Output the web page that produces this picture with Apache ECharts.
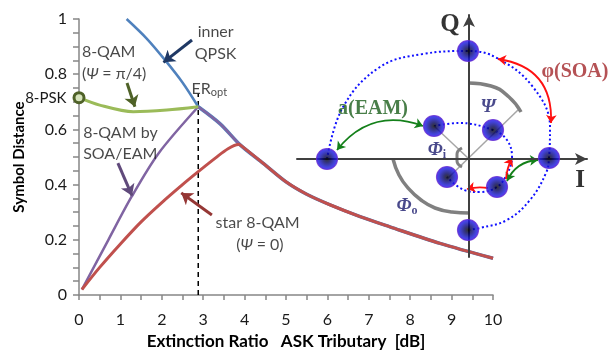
<!DOCTYPE html>
<html>
<head>
<meta charset="utf-8">
<script src="https://cdn.jsdelivr.net/npm/echarts@6/dist/echarts.min.js"></script>
<style>
  html, body { margin: 0; padding: 0; background: #fff; }
  #chart { width: 609px; height: 356px; }
</style>
</head>
<body>
<div id="chart"></div>
<script>
// ---- main curves: x = extinction ratio [dB], y = symbol distance ----
const innerQpsk = [[1.15, 1.0], [1.63, 0.93], [2.08, 0.851], [2.5, 0.77], [2.88, 0.682]];
const qam8Psi = [[0, 0.715], [0.5, 0.688], [1.31, 0.664], [2.12, 0.67], [2.88, 0.682]];
const qam8SoaEam = [[0.07, 0.02], [0.71, 0.2], [1.27, 0.356], [1.92, 0.513], [2.88, 0.682]];
const star8Qam = [[0.07, 0.02], [0.5, 0.1], [1.0, 0.185], [1.5, 0.265], [2.0, 0.335], [2.5, 0.4], [2.88, 0.447], [3.3, 0.497], [3.6, 0.53], [3.85, 0.545]];
const commonTail = [[2.88, 0.682], [3.41, 0.62], [3.9, 0.543], [4.45, 0.477], [5.0, 0.41], [5.5, 0.365], [6.06, 0.327], [6.79, 0.284], [7.51, 0.247], [8.72, 0.187], [10, 0.133]];
const erOpt = 2.88;
const erOptTop = 0.73;

// annotation texts on the main plot: [x, y, text, align]
const notes = [
  [3.3, 0.955, 'inner', 'center'],
  [3.3, 0.875, 'QPSK', 'center'],
  [0.07, 0.88, '8-QAM', 'left'],
  [0.07, 0.8, '({i|Ψ} = π/4)', 'left'],
  [0.1, 0.587, '8-QAM by', 'left'],
  [0.1, 0.512, 'SOA/EAM', 'left'],
  [3.3, 0.26, 'star 8-QAM', 'left'],
  [4.37, 0.182, '({i|Ψ} = 0)', 'center'],
  [2.72, 0.748, 'ER{s|opt}', 'left']
];

// annotation arrows on the main plot: [from, to]
const navyArrow = [[2.73, 0.924], [2.04, 0.843]];
const oliveArrow = [[1.16, 0.768], [1.35, 0.682]];
const purpleArrow = [[0.94, 0.478], [1.28, 0.36]];
const brownArrow = [[3.21, 0.29], [2.47, 0.37]];

// ---- constellation inset (units = pixels around the I/Q origin) ----
const outerPts = [[-1, 108], [-142, 0], [80, 1], [-1, -71]];
const innerPts = [[-35, 33], [24, 29], [-22, -18], [28, -28]];
const outerOrbit = [[-142, 0], [-126, 52], [-89, 92], [-46, 105], [-1, 108], [28, 101], [64, 72], [81, 32], [80, 1], [77, -14], [61, -41], [38, -61], [11, -69], [-1, -71]];
const innerOrbit = [[-35, 33], [-10, 36], [24, 29], [38, 19], [43, 2], [38, -15], [28, -28], [10, -33], [-5, -31], [-22, -18]];
const diagRay = [[-22, -20], [49, 49]];
const phiIRay = [[-35, 33], [0, 0]];
const psiArc = [[0, 76], [22, 73], [40, 62], [52, 47]];
const phiOArc = [[-76, 0], [-70, -16], [-61, -29], [-48, -41], [-34, -49], [-17, -53], [0, -54]];
const phiIArc = [[-7, 11], [-12, 5], [-12, -2], [-7, -8]];
const eamArrowA = [[-132, 9], [-46, 33]];
const eamArrowB = [[38, -22], [69, -1]];
const soaArrowA = [[29, 100], [82, 36]];
const soaArrowB = [[37, -20], [43, 1]];
const soaArrowC = [[19, -29], [-2, -30]];
// inset labels: [x, y, text]
const insetLabels = [
  [-19, 134, '{q|Q}'],
  [111, -22, '{q|I}'],
  [19, 52, '{g|Ψ}'],
  [-32, 9, '{g|Φ}{sub|i}'],
  [-62, -47, '{g|Φ}{sub|o}'],
  [-96, 50, '{eam|a(EAM)}'],
  [106, 87, '{soa|φ(SOA)}']
];

const FONT = 'Lato, "Open Sans", sans-serif';
const SERIF = '"Liberation Serif", "DejaVu Serif", serif';

const chart = echarts.init(document.getElementById('chart'));

function curve(data, color, width, z) {
  return {
    type: 'line', data: data, smooth: 0.3, symbol: 'none',
    clip: false, z: z || 2,
    lineStyle: { color: color, width: width }
  };
}
function arrow(coords, color, width, size, both, curveness, xi) {
  return {
    type: 'lines', coordinateSystem: 'cartesian2d', xAxisIndex: xi, yAxisIndex: xi,
    symbol: both ? ['arrow', 'arrow'] : ['none', 'arrow'], symbolSize: size, z: 4,
    lineStyle: { color: color, width: width, opacity: 1, curveness: curveness },
    data: [{ coords: coords }]
  };
}
function insetLine(data, style, smooth) {
  return {
    type: 'line', xAxisIndex: 1, yAxisIndex: 1, data: data, symbol: 'none',
    smooth: smooth, clip: false, z: 3, lineStyle: style
  };
}

const hiddenAxis = {
  show: true, axisTick: { show: false }, axisLabel: { show: false }, splitLine: { show: false },
  axisLine: { onZero: true, symbol: ['none', 'arrow'], symbolSize: [9, 12], lineStyle: { color: '#404040', width: 2 } },
  z: 5
};

const option = {
  animation: false,
  backgroundColor: '#fff',
  textStyle: { fontFamily: FONT },
  grid: [
    { left: 79, right: 116, top: 19, bottom: 61 },
    { left: 297, top: 15, width: 290, height: 242 }
  ],
  xAxis: [
    {
      type: 'value', min: 0, max: 10, interval: 1,
      name: 'Extinction Ratio   ASK Tributary  [dB]', nameLocation: 'middle', nameGap: 37,
      nameTextStyle: { fontFamily: FONT, fontWeight: 'bold', fontSize: 17, color: '#000' },
      axisLine: { lineStyle: { color: '#868686', width: 1.5 } },
      axisTick: { length: 5, lineStyle: { color: '#868686', width: 1.5 } },
      minorTick: { show: true, splitNumber: 2, length: 5, lineStyle: { color: '#868686', width: 1.5 } },
      axisLabel: { fontFamily: FONT, fontSize: 16, color: '#1a1a1a', margin: 17 },
      splitLine: { show: false }
    },
    Object.assign({ type: 'value', gridIndex: 1, min: -172, max: 118 }, hiddenAxis)
  ],
  yAxis: [
    {
      type: 'value', min: 0, max: 1, interval: 0.2,
      name: 'Symbol Distance', nameLocation: 'middle', nameGap: 52,
      nameTextStyle: { fontFamily: FONT, fontWeight: 'bold', fontSize: 15, color: '#000' },
      axisLine: { show: true, lineStyle: { color: '#868686', width: 1.5 } },
      axisTick: { show: true, length: 6, lineStyle: { color: '#868686', width: 1.5 } },
      minorTick: { show: true, splitNumber: 4, length: 6, lineStyle: { color: '#868686', width: 1.5 } },
      axisLabel: { fontFamily: FONT, fontSize: 16, color: '#1a1a1a', margin: 12 },
      splitLine: { show: false }
    },
    Object.assign({ type: 'value', gridIndex: 1, min: -98, max: 144 }, hiddenAxis)
  ],
  series: [
    // dashed ER_opt marker
    {
      type: 'line', data: [[erOpt, 0], [erOpt, erOptTop]], symbol: 'none', z: 1,
      lineStyle: { color: '#000', width: 1.5, type: [5, 4] }
    },
    curve(innerQpsk, '#4f81bd', 2.5),
    curve(commonTail, '#4f81bd', 3.5),
    curve(commonTail, '#8064a2', 2.5),
    curve(qam8SoaEam, '#8064a2', 2.5),
    Object.assign(curve(qam8Psi, '#9bbb59', 3), {
      showSymbol: true,
      data: qam8Psi.map((p, i) => i === 0 ? {
        value: p, symbol: 'circle', symbolSize: 10,
        itemStyle: { color: '#d7e4bd', borderColor: '#4f6228', borderWidth: 3 },
        label: { show: true, position: 'left', distance: 6, formatter: '8-PSK', fontFamily: FONT, fontSize: 15, color: '#1a1a1a' }
      } : { value: p, symbol: 'none' })
    }),
    curve(star8Qam.concat(commonTail.filter(p => p[0] > 3.85)), '#c0504d', 3, 3),
    // text notes
    {
      type: 'scatter', symbolSize: 0, z: 6, clip: false,
      data: notes.map(n => ({
        value: [n[0], n[1]],
        label: {
          show: true, position: 'inside', align: n[3], formatter: n[2],
          fontFamily: FONT, fontSize: 16, color: '#1a1a1a',
          rich: {
            i: { fontFamily: FONT, fontStyle: 'italic', fontSize: 16, color: '#1a1a1a' },
            s: { fontFamily: FONT, fontSize: 11, color: '#1a1a1a', verticalAlign: 'bottom', padding: [8, 0, 0, 0] }
          }
        }
      }))
    },
    arrow(navyArrow, '#1f3864', 3, 11, false, 0, 0),
    arrow(oliveArrow, '#4f6228', 3, 11, false, 0, 0),
    arrow(purpleArrow, '#604a7b', 3, 11, false, 0, 0),
    arrow(brownArrow, '#953735', 3, 11, false, 0, 0),

    // ---- constellation inset ----
    insetLine(outerOrbit, { color: '#1010ff', width: 2, type: [2, 2.5] }, 0.4),
    insetLine(innerOrbit, { color: '#1010ff', width: 2, type: [2, 2.5] }, 0.4),
    insetLine(diagRay, { color: '#a6a6a6', width: 1.5 }, false),
    insetLine(phiIRay, { color: '#a6a6a6', width: 1.5 }, false),
    insetLine(psiArc, { color: '#808080', width: 3.5 }, 0.5),
    insetLine(phiOArc, { color: '#808080', width: 3.5 }, 0.5),
    insetLine(phiIArc, { color: '#808080', width: 3 }, 0.5),
    arrow(eamArrowA, '#14801a', 1.8, 8, true, 0.36, 1),
    arrow(eamArrowB, '#14801a', 1.8, 8, true, 0.3, 1),
    arrow(soaArrowA, '#ff1010', 1.8, 8, true, 0.45, 1),
    arrow(soaArrowB, '#ff1010', 1.8, 8, false, 0.1, 1),
    arrow(soaArrowC, '#ff1010', 1.8, 8, false, -0.1, 1),
    {
      type: 'scatter', xAxisIndex: 1, yAxisIndex: 1, z: 7, symbolSize: 21, clip: false,
      data: outerPts.concat(innerPts),
      itemStyle: {
        color: {
          type: 'radial', x: 0.5, y: 0.5, r: 0.5,
          colorStops: [
            { offset: 0, color: '#000000' },
            { offset: 0.3, color: '#00005a' },
            { offset: 0.7, color: '#1212c8' },
            { offset: 1, color: '#2418ff' }
          ]
        },
        borderColor: '#6428d0', borderWidth: 1.2
      }
    },
    {
      type: 'scatter', xAxisIndex: 1, yAxisIndex: 1, z: 8, symbolSize: 0, clip: false,
      data: insetLabels.map(l => ({
        value: [l[0], l[1]],
        label: {
          show: true, position: 'inside', formatter: l[2],
          rich: {
            q: { fontFamily: SERIF, fontWeight: 'bold', fontSize: 25, color: '#000' },
            g: { fontFamily: SERIF, fontWeight: 'bold', fontStyle: 'italic', fontSize: 19, color: '#1b1b6e' },
            sub: { fontFamily: SERIF, fontWeight: 'bold', fontSize: 12, color: '#1b1b6e', verticalAlign: 'bottom', padding: [10, 0, 0, 0] },
            eam: { fontFamily: SERIF, fontWeight: 'bold', fontSize: 20, color: '#1a5e1a' },
            soa: { fontFamily: SERIF, fontWeight: 'bold', fontSize: 20, color: '#a3272a' }
          }
        }
      }))
    }
  ]
};

chart.setOption(option);
</script>
</body>
</html>
